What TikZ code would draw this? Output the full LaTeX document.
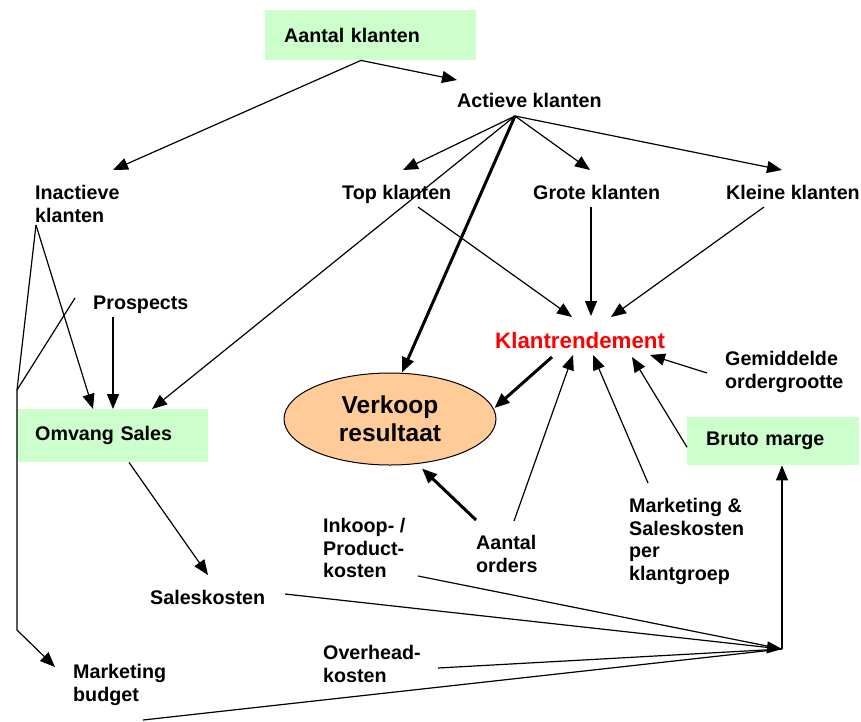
\documentclass[tikz,border=0pt]{standalone}
\usepackage{fontspec}
\setmainfont{Liberation Sans}
\usetikzlibrary{arrows.meta,shapes.geometric}
\definecolor{boxgreen}{HTML}{CCFFCC}
\definecolor{peach}{HTML}{FFCC99}
\begin{document}
\begin{tikzpicture}[x=1pt,y=-1pt]
                \tikzstyle{every node}+=[inner sep=0pt]
                \tikzstyle{lbl}=[anchor=north west, align=left, font=\bfseries\fontsize{19.7}{22.7}\selectfont]
                \tikzstyle{gbox}=[lbl, fill=boxgreen, inner xsep=19pt]
                \tikzstyle{ln}=[black, line width=1.2pt]
                \tikzstyle{arr}=[ln, -{Triangle[length=15pt,width=12pt]}]
                \tikzstyle{thick arr}=[arr, line width=3pt]
                \useasboundingbox (0,0) rectangle (861,721);
                \node [gbox, text width=173pt, minimum height=50pt] (aantal) at (265,10) {Aantal klanten};
                \node [gbox, inner xsep=18pt, text width=155pt, minimum height=53pt] (omvang) at (17,409) {Omvang Sales};
                \node [gbox, text width=134pt, minimum height=48pt] (bruto) at (687,417) {Bruto marge};
                \node [ellipse, draw, line width=1pt, fill=peach, minimum width=212pt, minimum height=92pt, align=center, font=\bfseries\fontsize{24.5}{28}\selectfont] (verkoop) at (390,419) {Verkoop\\resultaat};
                \node [lbl] (actieve) at (457,93) {Actieve klanten};
                \node [lbl] (inactieve) at (35,185) {Inactieve\\klanten};
                \node [lbl] (topk) at (342,185) {Top klanten};
                \node [lbl] (grotek) at (533,185) {Grote klanten};
                \node [lbl] (kleinek) at (726,185) {Kleine klanten};
                \node [lbl] (prospects) at (93,296) {Prospects};
                \node [lbl, red, font=\bfseries\fontsize{22.3}{26}\selectfont] (klantr) at (495,332) {Klantrendement};
                \node [lbl] (gemid) at (725,351) {Gemiddelde\\ordergrootte};
                \node [lbl] (mkt) at (629,498) {Marketing \&\\Saleskosten\\per\\klantgroep};
                \node [lbl] (inkoop) at (323,518) {Inkoop- /\\Product-\\kosten};
                \node [lbl] (aantalord) at (476,535) {Aantal\\orders};
                \node [lbl] (salesk) at (150,590) {Saleskosten};
                \node [lbl] (overhead) at (323,645) {Overhead-\\kosten};
                \node [lbl] (mbudget) at (73,664) {Marketing\\budget};
                \coordinate (ak) at ([xshift=96pt]aantal.south west);
                \coordinate (ac) at ([shift={(58pt,-23pt)}]actieve.north west);
                \coordinate (lj) at ([yshift=19pt]omvang.north west);
                \coordinate (conv) at ([shift={(95pt,-232pt)}]bruto.north west);
                \draw [arr] (ak) -- ([yshift=13pt]actieve.north west);
                \draw [arr] (ak) -- ([shift={(78pt,15pt)}]inactieve.north west);
                \draw [arr] (ac) -- ([shift={(61pt,15pt)}]topk.north west);
                \draw [arr] (ac) -- ([shift={(57pt,15pt)}]grotek.north west);
                \draw [arr] (ac) -- ([shift={(56pt,15pt)}]kleinek.north west);
                \draw [thick arr] (ac) -- ([xshift=12pt]verkoop.north);
                \draw [arr] (ac) -- ([xshift=135pt]omvang.north west);
                \draw [arr] ([shift={(76pt,-22pt)}]topk.north west) -- ([shift={(77pt,15pt)}]klantr.north west);
                \draw [arr] ([shift={(58pt,-22pt)}]grotek.north west) -- ([shift={(96pt,16pt)}]klantr.north west);
                \draw [arr] ([shift={(38pt,-22pt)}]kleinek.north west) -- ([shift={(116pt,15pt)}]klantr.north west);
                \draw [arr] ([shift={(-18pt,-22pt)}]gemid.north west) -- ([shift={(155pt,-23pt)}]klantr.north west);
                \draw [thick arr] ([shift={(57pt,-25pt)}]klantr.north west) -- ([shift={(-2pt,11pt)}]verkoop.east);
                \draw [thick arr] ([yshift=15pt]aantalord.north west) -- ([shift={(32pt,-3pt)}]verkoop.south);
                \draw [arr] ([shift={(38pt,14pt)}]aantalord.north west) -- ([shift={(78pt,-23pt)}]klantr.north west);
                \draw [arr] ([shift={(19pt,15pt)}]mkt.north west) -- ([shift={(98pt,-23pt)}]klantr.north west);
                \draw [arr] ([yshift=-6pt]bruto.west) -- ([shift={(137pt,-25pt)}]klantr.north west);
                \draw [arr] ([xshift=112pt]omvang.south west) -- ([shift={(58pt,15pt)}]salesk.north west);
                \draw [arr] ([shift={(20pt,-21pt)}]prospects.north west) -- ([xshift=96pt]omvang.north west);
                \draw [arr] ([shift={(1pt,-40pt)}]inactieve.north west) -- ([xshift=76pt]omvang.north west);
                \draw [ln] ([shift={(1pt,-40pt)}]inactieve.north west) -- (lj);
                \draw [ln] ([shift={(-18pt,-2pt)}]prospects.north west) -- (lj);
                \draw [arr] (lj) -- ++(0,240) -- ([shift={(-18pt,-3pt)}]mbudget.north west);
                \draw [ln] ([shift={(95pt,-58pt)}]inkoop.north west) -- (conv);
                \draw [arr] ([shift={(135pt,-4pt)}]salesk.north west) -- (conv);
                \draw [ln] ([shift={(115pt,-23pt)}]overhead.north west) -- (conv);
                \draw [ln] ([shift={(70pt,-56pt)}]mbudget.north west) -- (conv);
                \draw [arr] (conv) -- (conv |- bruto.south);
            \end{tikzpicture}
\end{document}
